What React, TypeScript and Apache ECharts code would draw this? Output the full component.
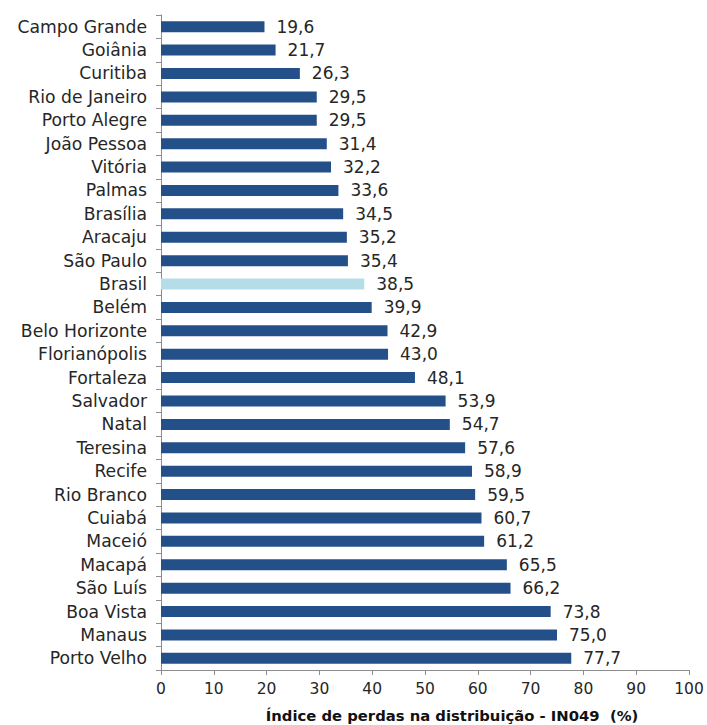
import React, { useEffect, useRef } from "react";
import * as echarts from "echarts";

// Cities ordered from lowest to highest loss index (top to bottom)
const cities = [
  "Campo Grande", "Goiânia", "Curitiba", "Rio de Janeiro", "Porto Alegre",
  "João Pessoa", "Vitória", "Palmas", "Brasília", "Aracaju", "São Paulo",
  "Brasil", "Belém", "Belo Horizonte", "Florianópolis", "Fortaleza",
  "Salvador", "Natal", "Teresina", "Recife", "Rio Branco", "Cuiabá",
  "Maceió", "Macapá", "São Luís", "Boa Vista", "Manaus", "Porto Velho",
];

const lossIndex = [
  19.6, 21.7, 26.3, 29.5, 29.5, 31.4, 32.2, 33.6, 34.5, 35.2, 35.4,
  38.5, 39.9, 42.9, 43.0, 48.1, 53.9, 54.7, 57.6, 58.9, 59.5, 60.7,
  61.2, 65.5, 66.2, 73.8, 75.0, 77.7,
];

const highlighted = "Brasil";
const axisTitle = "Índice de perdas na distribuição - IN049\u00a0 (%)";

const FONT = "'DejaVu Sans', sans-serif";
const TEXT = "#262626";
const AXIS = "#8c8c8c";

export default function App() {
  const ref = useRef<HTMLDivElement>(null);

  useEffect(() => {
    if (!ref.current) return;
    const chart = echarts.init(ref.current, null, { renderer: "svg" });
    chart.setOption({
      animation: false,
      textStyle: { fontFamily: FONT },
      grid: { left: 161, right: 18, top: 15, bottom: 55, containLabel: false },
      xAxis: {
        type: "value",
        min: 0,
        max: 100,
        interval: 10,
        splitLine: { show: false },
        axisLine: { show: true, lineStyle: { color: AXIS } },
        axisTick: { show: true, length: 5, lineStyle: { color: AXIS } },
        axisLabel: { color: TEXT, fontSize: 15.5, margin: 11, fontFamily: FONT },
      },
      yAxis: {
        type: "category",
        data: cities,
        inverse: true,
        axisLine: { show: true, lineStyle: { color: AXIS } },
        axisTick: { show: true, length: 5, interval: 0, lineStyle: { color: AXIS } },
        axisLabel: {
          interval: 0,
          hideOverlap: false,
          color: TEXT,
          fontSize: 17.2,
          margin: 14,
          fontFamily: FONT,
        },
      },
      graphic: [
        {
          type: "text",
          x: 452,
          y: 715,
          style: {
            text: axisTitle,
            fill: "#111",
            font: `bold 14.8px ${FONT}`,
            align: "center",
            verticalAlign: "middle",
          },
        },
      ],
      series: [
        {
          type: "bar",
          data: lossIndex.map((v, i) => ({
            value: v,
            itemStyle: {
              color: cities[i] === highlighted ? "#b5dde8" : "#24508a",
            },
          })),
          barWidth: 11,
          label: {
            show: true,
            position: "right",
            distance: 12,
            color: TEXT,
            fontSize: 17,
            fontFamily: FONT,
            formatter: (p: any) => p.value.toFixed(1).replace(".", ","),
          },
        },
      ],
    });
    return () => chart.dispose();
  }, []);

  return (
    <div
      ref={ref}
      style={{ position: "absolute", left: 0, top: 0, width: 707, height: 725 }}
    />
  );
}
